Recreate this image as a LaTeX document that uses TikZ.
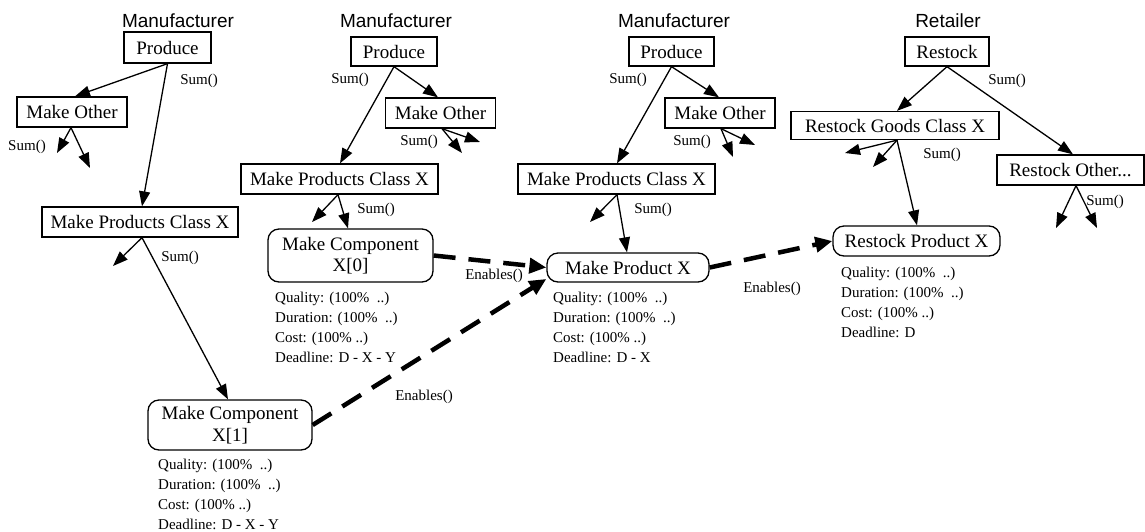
\documentclass[tikz,border=0pt]{standalone}
\usepackage{fontspec}
\setmainfont{Liberation Serif}
\newfontfamily\labelsans{Liberation Sans}
\usetikzlibrary{arrows.meta}
% four attribute lines under a leaf task: #1 name prefix, #2 x, #3 first baseline, #4 deadline
\newcommand\attrlines[4]{%
  \node[attr] (#1q) at (#2,#3) {Quality: (100\%~~..)};
  \node[attr] (#1d) at (#2,#3+20) {Duration: (100\%~~..)};
  \node[attr] (#1c) at (#2,#3+40) {Cost: (100\% ..)};
  \node[attr] (#1l) at (#2,#3+60) {Deadline: #4};
}
\begin{document}
\begin{tikzpicture}[x=1pt,y=-1pt,
  taskbox/.style={draw, line width=1.3pt, inner sep=0pt, align=center,
    font=\fontsize{19}{21.5}\selectfont},
  leafbox/.style={taskbox, rounded corners=11pt},
  agent/.style={font=\labelsans\fontsize{19}{22}\selectfont, anchor=base, inner sep=0pt},
  fn/.style={font=\fontsize{15}{18}\selectfont, inner sep=0pt},
  attr/.style={fn, anchor=base west},
  sub/.style={line width=1.3pt, -{Triangle[length=15pt,width=11pt]}},
  enable/.style={line width=4.5pt, dash pattern=on 22pt off 13pt,
    -{Triangle[length=17pt,width=15pt]}}]
\useasboundingbox (0,0) rectangle (1145,531);

% ---------------- first manufacturer ----------------
\node[agent] (ag1) at (178,27) {Manufacturer};
\node[taskbox, minimum width=87pt, minimum height=31pt] (p1) at (167.5,47.5) {Produce};
\node[taskbox, minimum width=110pt, minimum height=30pt] (mo1) at (72,112) {Make Other};
\node[taskbox, minimum width=196pt, minimum height=30pt] (mc1) at (140,222) {Make Products Class X};
\node[leafbox, minimum width=164pt, minimum height=50pt] (c1) at (230,425) {Make Component\\X[1]};
\coordinate (e1a) at (57,153);
\coordinate (e1b) at (90,168);
\coordinate (e1c) at (113,266);
\draw[sub] (p1.south) -- ([xshift=3pt]mo1.north);
\draw[sub] (p1.south) -- ([xshift=2pt]mc1.north);
\node[fn] (s1a) at (199,81) {Sum()};
\draw[sub] ([xshift=-1pt]mo1.south) -- (e1a);
\draw[sub] ([xshift=-1pt]mo1.south) -- (e1b);
\node[fn] (s1b) at (27,147) {Sum()};
\draw[sub] ([xshift=2pt]mc1.south) -- (e1c);
\draw[sub] ([xshift=2pt]mc1.south) -- ([xshift=-2pt]c1.north);
\node[fn] (s1c) at (180,258) {Sum()};
\attrlines{c1}{158}{469}{D - X - Y}

% ---------------- second manufacturer ----------------
\node[agent] (ag2) at (396,27) {Manufacturer};
\node[taskbox, minimum width=86pt, minimum height=29pt] (p2) at (394,51.5) {Produce};
\node[taskbox, minimum width=110pt, minimum height=30pt] (mo2) at (440.5,113) {Make Other};
\node[taskbox, minimum width=197pt, minimum height=30pt] (mc2) at (339.5,179) {Make Products Class X};
\node[leafbox, minimum width=165pt, minimum height=53pt] (c0) at (350.5,255.5) {Make Component\\X[0]};
\coordinate (e2a) at (462,153);
\coordinate (e2b) at (480,142);
\coordinate (e2c) at (312,222);
\draw[sub] (p2.south) -- ([xshift=-2.5pt]mo2.north);
\draw[sub] (p2.south) -- ([xshift=0.5pt]mc2.north);
\node[fn] (s2a) at (350,80) {Sum()};
\draw[sub] ([xshift=1.5pt]mo2.south) -- (e2a);
\draw[sub] ([xshift=1.5pt]mo2.south) -- (e2b);
\node[fn] (s2b) at (419,142) {Sum()};
\draw[sub] ([xshift=-1.5pt]mc2.south) -- (e2c);
\draw[sub] ([xshift=-1.5pt]mc2.south) -- ([xshift=-2.5pt]c0.north);
\node[fn] (s2c) at (376,210) {Sum()};
\attrlines{c0}{275}{302}{D - X - Y}

% ---------------- third manufacturer ----------------
\node[agent] (ag3) at (674,27) {Manufacturer};
\node[taskbox, minimum width=85pt, minimum height=29pt] (p3) at (671.5,51.5) {Produce};
\node[taskbox, minimum width=110pt, minimum height=30pt] (mo3) at (720,113) {Make Other};
\node[taskbox, minimum width=197pt, minimum height=30pt] (mc3) at (616.5,179) {Make Products Class X};
\node[leafbox, minimum width=162pt, minimum height=29pt] (px) at (628,267.5) {Make Product X};
\coordinate (e3a) at (733,157);
\coordinate (e3b) at (755,145);
\coordinate (e3c) at (590,222);
\draw[sub] (p3.south) -- ([xshift=-1pt]mo3.north);
\draw[sub] (p3.south) -- ([xshift=0.5pt]mc3.north);
\node[fn] (s3a) at (628,80) {Sum()};
\draw[sub] ([xshift=1pt]mo3.south) -- (e3a);
\draw[sub] ([xshift=1pt]mo3.south) -- (e3b);
\node[fn] (s3b) at (692,142) {Sum()};
\draw[sub] ([xshift=0.5pt]mc3.south) -- (e3c);
\draw[sub] ([xshift=0.5pt]mc3.south) -- ([xshift=-1pt]px.north);
\node[fn] (s3c) at (653,210) {Sum()};
\attrlines{px}{553}{302}{D - X}

% ---------------- retailer ----------------
\node[agent] (ag4) at (948,27) {Retailer};
\node[taskbox, minimum width=84pt, minimum height=29pt] (r) at (947,51.5) {Restock};
\node[taskbox, minimum width=208pt, minimum height=28pt] (rg) at (895,125.5) {Restock Goods Class X};
\node[taskbox, minimum width=147pt, minimum height=30pt] (ro) at (1070.5,170) {Restock Other...};
\node[leafbox, minimum width=167pt, minimum height=30pt] (rp) at (916.5,241) {Restock Product X};
\coordinate (e4a) at (845,153);
\coordinate (e4b) at (873,167);
\coordinate (e4c) at (1056,228);
\coordinate (e4d) at (1097,228);
\draw[sub] (r.south) -- ([xshift=2pt]rg.north);
\draw[sub] (r.south) -- ([xshift=2.5pt]ro.north);
\node[fn] (s4a) at (1007,81) {Sum()};
\draw[sub] ([xshift=2pt]rg.south) -- (e4a);
\draw[sub] ([xshift=2pt]rg.south) -- (e4b);
\draw[sub] ([xshift=2pt]rg.south) -- ([xshift=0.5pt]rp.north);
\node[fn] (s4b) at (942,155) {Sum()};
\draw[sub] ([xshift=5.5pt]ro.south) -- (e4c);
\draw[sub] ([xshift=5.5pt]ro.south) -- (e4d);
\node[fn] (s4c) at (1105,202) {Sum()};
\attrlines{rp}{841}{277}{D}

% ---------------- enablement links ----------------
\draw[enable] (c0.east) -- (px.west);
\node[fn] (en1) at (494,276) {Enables()};
\draw[enable] (c1.east) -- (px.188);
\node[fn] (en2) at (424,397) {Enables()};
\draw[enable] (px.east) -- (rp.west);
\node[fn] (en3) at (772,289) {Enables()};
\end{tikzpicture}
\end{document}
